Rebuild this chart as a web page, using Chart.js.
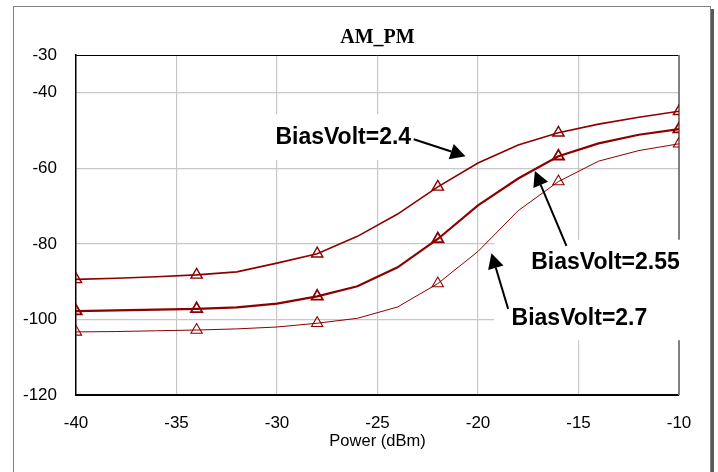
<!DOCTYPE html>
<html>
<head>
<meta charset="utf-8">
<script src="https://cdn.jsdelivr.net/npm/chart.js@4.4.1/dist/chart.umd.min.js"></script>
<style>
  html, body { margin: 0; padding: 0; background: #fff; }
  #wrap { width: 718px; height: 472px; }
</style>
</head>
<body>
<div id="wrap"><canvas id="amPmChart" width="718" height="472"></canvas></div>
<script>
// Input power sweep (dBm) and AM-PM phase (deg) for each bias voltage
const powerDbm = [-40, -38, -36, -34, -32, -30, -28, -26, -24, -22, -20, -18, -16, -14, -12, -10];
const phaseBias24 = [-89.4, -89.1, -88.7, -88.2, -87.4, -85.1, -82.6, -78.0, -72.1, -64.9, -58.6, -53.8, -50.6, -48.3, -46.5, -44.9];
const phaseBias255 = [-97.8, -97.6, -97.4, -97.2, -96.8, -95.8, -93.9, -91.2, -86.2, -78.7, -69.8, -62.7, -56.8, -53.4, -51.1, -49.6];
const phaseBias27 = [-103.3, -103.2, -103.0, -102.8, -102.5, -102.0, -101.0, -99.7, -96.7, -90.5, -82.0, -71.2, -63.5, -58.1, -55.3, -53.5];
const yTickValues = [-120, -100, -80, -60, -40, -30];
const markerEvery = 3;

// Callouts, in data units
const calloutLabels = [
    { text: "BiasVolt=2.4", x: -30.08, y: -52.0 },
    { text: "BiasVolt=2.55", x: -17.35, y: -84.9 },
    { text: "BiasVolt=2.7", x: -18.33, y: -99.7 },
];
const calloutArrows = [
    { from: [-23.2, -52.3], to: [-20.62, -56.8] },
    { from: [-15.6, -80.5], to: [-17.17, -60.7] },
    { from: [-18.5, -97.2], to: [-19.33, -82.5] },
];
const calloutMasks = [
    { x0: -30.33, x1: -23.27, y0: -45.7, y1: -57.8 },
    { x0: -19.19, x1: -9.6, y0: -78.9, y1: -105.5 },
];

const RED = "#8c0000";

function markerRadius(r) {
    return powerDbm.map((_, i) => (i % markerEvery === 0 ? r : 0));
}

function series(values, width, markerWidth) {
    return {
        data: powerDbm.map((p, i) => ({ x: p, y: values[i] })),
        borderColor: RED,
        borderWidth: width,
        pointStyle: "triangle",
        pointRadius: markerRadius(6.5),
        pointBorderColor: RED,
        pointBackgroundColor: "rgba(0,0,0,0)",
        pointBorderWidth: markerWidth,
        tension: 0,
    };
}

function drawArrow(ctx, x1, y1, x2, y2) {
    const ang = Math.atan2(y2 - y1, x2 - x1);
    const len = 15, half = 8;
    const bx = x2 - Math.cos(ang) * len, by = y2 - Math.sin(ang) * len;
    ctx.beginPath();
    ctx.moveTo(x1, y1);
    ctx.lineTo(bx, by);
    ctx.stroke();
    ctx.beginPath();
    ctx.moveTo(x2, y2);
    ctx.lineTo(bx + Math.sin(ang) * half, by - Math.cos(ang) * half);
    ctx.lineTo(bx - Math.sin(ang) * half, by + Math.cos(ang) * half);
    ctx.closePath();
    ctx.fill();
}

const framePlugin = {
    id: "frame",
    beforeDraw(chart) {
        const { ctx, width, height } = chart;
        ctx.save();
        ctx.fillStyle = "#fff";
        ctx.fillRect(0, 0, width, height);
        ctx.fillStyle = "#5a5a5a";
        ctx.fillRect(711, 9, 3, height);
        ctx.strokeStyle = "#808080";
        ctx.lineWidth = 1;
        ctx.strokeRect(13.5, 6.5, 697, height);
        ctx.restore();
    },
    beforeDatasetsDraw(chart) {
        const { ctx, chartArea: a, scales } = chart;
        ctx.save();
        ctx.strokeStyle = "#000";
        ctx.lineWidth = 1;
        ctx.beginPath();
        ctx.moveTo(a.left, a.top + 0.5);
        ctx.lineTo(a.right, a.top + 0.5);
        ctx.stroke();
        ctx.strokeStyle = "#808080";
        ctx.lineWidth = 2;
        ctx.beginPath();
        ctx.moveTo(a.right, a.top);
        ctx.lineTo(a.right, a.bottom);
        ctx.stroke();
        ctx.fillStyle = "#fff";
        for (const m of calloutMasks) {
            const x0 = scales.x.getPixelForValue(m.x0), x1 = scales.x.getPixelForValue(m.x1);
            const y0 = scales.y.getPixelForValue(m.y0), y1 = scales.y.getPixelForValue(m.y1);
            ctx.fillRect(x0, y0, x1 - x0, y1 - y0);
        }
        ctx.restore();
    },
    afterDatasetsDraw(chart) {
        const { ctx, chartArea: a, scales } = chart;
        ctx.save();
        ctx.fillStyle = "#000";
        ctx.textBaseline = "middle";
        ctx.textAlign = "center";
        ctx.font = "bold 20px 'Liberation Serif', 'Times New Roman', serif";
        ctx.fillText("AM_PM", (a.left + a.right) / 2, 38);

        ctx.textAlign = "left";
        ctx.font = "bold 23px 'Liberation Sans', Arial, sans-serif";
        for (const l of calloutLabels) {
            ctx.fillText(l.text, scales.x.getPixelForValue(l.x), scales.y.getPixelForValue(l.y));
        }
        ctx.strokeStyle = "#000";
        ctx.lineWidth = 2;
        for (const ar of calloutArrows) {
            drawArrow(ctx,
                scales.x.getPixelForValue(ar.from[0]), scales.y.getPixelForValue(ar.from[1]),
                scales.x.getPixelForValue(ar.to[0]), scales.y.getPixelForValue(ar.to[1]));
        }
        ctx.restore();
    },
};

const ctx = document.getElementById("amPmChart").getContext("2d");
new Chart(ctx, {
    type: "line",
    data: {
        datasets: [
            series(phaseBias24, 1.6, 1.4),
            series(phaseBias255, 2.2, 1.8),
            series(phaseBias27, 1, 1.1),
        ],
    },
    options: {
        responsive: false,
        animation: false,
        devicePixelRatio: 1,
        layout: { padding: { top: 55, right: 39, left: 0, bottom: 0 } },
        plugins: {
            legend: { display: false },
            title: { display: false },
            tooltip: { enabled: false },
        },
        scales: {
            x: {
                type: "linear",
                min: -40,
                max: -10,
                afterFit(scale) { scale.height = 77; },
                ticks: {
                    stepSize: 5,
                    padding: 18,
                    color: "#000",
                    font: { family: "'Liberation Sans', Arial, sans-serif", size: 17 },
                    maxRotation: 0,
                },
                grid: {
                    drawTicks: false,
                    lineWidth: 1.2,
                    color: (c) => (c.tick && (c.tick.value === -40 || c.tick.value === -10) ? "rgba(0,0,0,0)" : "#c8c8c8"),
                },
                border: { color: "#000", width: 2 },
                title: {
                    display: true,
                    text: "Power (dBm)",
                    color: "#000",
                    font: { family: "'Liberation Sans', Arial, sans-serif", size: 16.5 },
                    padding: { top: 0, bottom: 21 },
                },
            },
            y: {
                type: "linear",
                min: -120,
                max: -30,
                afterFit(scale) { scale.width = 76; },
                afterBuildTicks(scale) {
                    scale.ticks = yTickValues.map((v) => ({ value: v }));
                },
                ticks: {
                    padding: 19,
                    color: "#000",
                    font: { family: "'Liberation Sans', Arial, sans-serif", size: 17 },
                },
                grid: {
                    drawTicks: false,
                    lineWidth: 1.2,
                    color: (c) => (c.tick && (c.tick.value === -120 || c.tick.value === -30) ? "rgba(0,0,0,0)" : "#c8c8c8"),
                },
                border: { color: "#000", width: 1.5 },
            },
        },
    },
    plugins: [framePlugin],
});
</script>
</body>
</html>
